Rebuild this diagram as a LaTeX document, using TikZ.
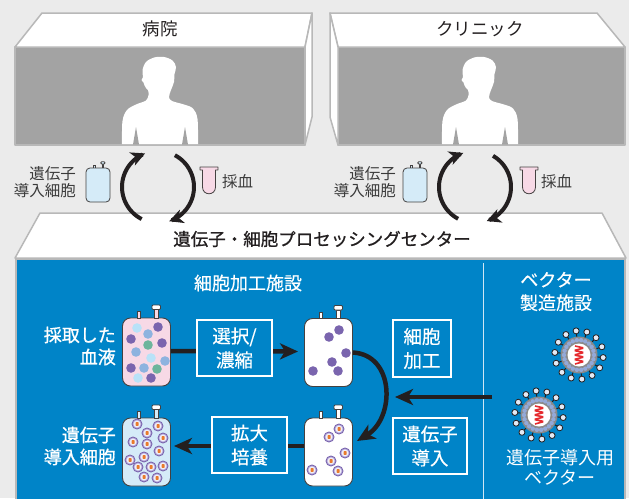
\documentclass[tikz,border=0pt]{standalone}
\usepackage{fontspec}
\setmainfont{Noto Sans CJK JP}
\newfontfamily\jpmedium{Noto Sans CJK JP}[FakeBold=0.9]
\newfontfamily\jpsemi{Noto Sans CJK JP}[FakeBold=0.45]
\usetikzlibrary{arrows.meta,calc}

\definecolor{bggray}{HTML}{EBEBEB}
\definecolor{roomgray}{HTML}{A3A3A3}
\definecolor{edgegray}{HTML}{B8B8B8}
\definecolor{procblue}{HTML}{0084C8}
\definecolor{ink}{HTML}{231F20}
\definecolor{labelgray}{HTML}{3A3A3A}
\definecolor{bagpink}{HTML}{F7D9E6}
\definecolor{bagblue}{HTML}{D5EBF8}
\definecolor{dotpurple}{HTML}{7A65AE}
\definecolor{dotlight}{HTML}{B8E2F8}
\definecolor{dotmid}{HTML}{8DB3DF}
\definecolor{dotgreen}{HTML}{6DB59C}
\definecolor{cellring}{HTML}{BBB0DD}
\definecolor{cellcore}{HTML}{E87B2C}
\definecolor{capsid}{HTML}{8A8A8A}
\definecolor{bead}{HTML}{93A9D8}
\definecolor{helix}{HTML}{E52A2E}
\definecolor{divider}{HTML}{CFE6F4}

\begin{document}
\begin{tikzpicture}[x=1pt,y=-1pt,
  roomedge/.style={draw=edgegray, line width=1.5pt, line join=round},
  roomlabel/.style={text=ink, font=\fontsize{17.5}{20}\selectfont, inner sep=0pt},
  titlelabel/.style={text=ink, font=\fontsize{17.5}{20}\selectfont\jpmedium, inner sep=0pt},
  graylabel/.style={text=labelgray, font=\fontsize{15.5}{17}\selectfont, inner sep=0pt},
  sidelabel/.style={text=white, font=\fontsize{18}{22}\selectfont\jpmedium, inner sep=0pt, align=right},
  sectionlabel/.style={text=white, font=\fontsize{18}{23}\selectfont\jpsemi, inner sep=0pt, align=center},
  procbox/.style={draw=white, line width=1.2pt, fill=procblue, inner sep=0pt,
    text=white, font=\fontsize{18.5}{24}\selectfont\jpsemi, align=center},
  bagbody/.style={draw=ink!85, line width=0.9pt, rounded corners=8pt,
    minimum width=48pt, minimum height=68pt, inner sep=0pt},
  fatarrow/.style={draw=ink, line width=4.5pt, -{Stealth[length=18pt,width=16pt,inset=5pt]}},
  cyclearrow/.style={draw=ink, line width=4pt, -{Stealth[length=14pt,width=14pt,inset=4pt]}},
  pics/spouts/.style={code={
    \draw[draw=ink!85, line width=0.8pt, fill=#1] (-9.5,0.5) rectangle (-6,-6);
    \draw[draw=ink!85, line width=0.8pt, fill=#1] (8,0.5) rectangle (11.5,-8);
    \draw[draw=ink!85, line width=0.8pt, fill=white, rounded corners=1pt] (5.5,-8) rectangle (14,-12.5);
  }},
  pics/bottle/.style={code={
    \draw[draw=ink!85, line width=0.8pt, fill=#1] (-9.5,0.5) rectangle (-6,-6);
    \draw[draw=ink!85, line width=0.8pt, fill=#1] (8,0.5) rectangle (11.5,-8);
    \draw[draw=ink!85, line width=0.8pt, fill=#1, rounded corners=1pt] (5.5,-8) rectangle (14,-12.5);
    \draw[draw=ink!85, line width=0.8pt, fill=#1, rounded corners=4pt] (-24,0) rectangle (24,68);
  }},
  pics/tube/.style={code={
    \draw[draw=ink!85, line width=0.8pt, fill=bagpink, line join=round]
      (-9,0) -- (9,0) -- (9,3) -- (6.5,3) -- (6.5,20)
      .. controls (6.5,29) and (-6.5,29) .. (-6.5,20) -- (-6.5,3) -- (-9,3) -- cycle;
  }},
  pics/person/.style={code={
    \fill[white] plot[smooth, tension=0.55] coordinates {(-38,87) (-37.5,64) (-33,53)
      (-24,47.5) (-14,43.5) (-11.5,38) (-12,33) (-14,31) (-15.5,28.5) (-16.5,25.5)
      (-18.5,23) (-17,20) (-17.5,13) (-14,5) (-6,0.5) (4,0) (12.5,3.5) (16,10)
      (14.5,17) (14,25) (11,33) (9,40) (12,44) (24,47.5) (33,51.5) (37.5,62) (38,87)} -- cycle;
    \fill[roomgray] (-24,70) -- (-27,87.5) -- (-21,87.5) -- cycle;
    \fill[roomgray] (25,70) -- (22,87.5) -- (28,87.5) -- cycle;
  }},
  pics/cell/.style={code={
    \draw[draw=dotpurple, line width=0.9pt, fill=cellring] (0,0) circle (5);
    \fill[white!80!cellring] (0,0) circle (3.4);
    \fill[cellcore, rounded corners=0.6pt] (-1.4,-1.9) rectangle (1.7,1.8);
  }},
  pics/virus/.style={code={
    \foreach \i in {0,...,13} {
      \draw[ink, line width=1pt] (\i*360/14+6:16) -- (\i*360/14+6:22);
      \draw[ink, line width=0.8pt, fill=white!75!bead] (\i*360/14+6:24.3) circle (3);
    }
    \fill[capsid] (0,0) circle (18.5);
    \foreach \i in {0,...,21} \fill[bead] (\i*360/22:15) circle (2.2);
    \fill[white] (0,0) circle (11.5);
    \draw[helix, line width=1.6pt, rounded corners=1.5pt]
      (-4,-9) -- (5,-7) -- (-5,-4.5) -- (5,-2.5) -- (-5,0) -- (5,2) -- (-5,4.5) -- (5,6.5) -- (-4,9);
  }}
]
\useasboundingbox (0,0) rectangle (629,498);
\fill[bggray] (0,0) rectangle (629,498);

% ---- hospital ----
\draw[roomedge, fill=roomgray] (15,47) rectangle (305,145);
\draw[roomedge, fill=white] (15,47) -- (42,13) -- (312,13) -- (305,47) -- cycle;
\draw[roomedge, fill=white] (305,47) -- (312,13) -- (312,117) -- (305,145) -- cycle;
\node[roomlabel] (hosp) at (160,29) {病院};
\pic at (160,57) {person};

% ---- clinic ----
\draw[roomedge, fill=roomgray] (338,47) rectangle (625,145);
\draw[roomedge, fill=white] (338,47) -- (330,13) -- (597,13) -- (625,47) -- cycle;
\draw[roomedge, fill=white] (338,47) -- (330,13) -- (330,117) -- (338,145) -- cycle;
\node[roomlabel] (clinic) at (480,29) {クリニック};
\pic at (480,57) {person};

% ---- processing center ----
\draw[roomedge, fill=white] (15,258) -- (40,213) -- (602,213) -- (626,258) -- cycle;
\node[titlelabel] (center) at (322,239) {遺伝子・細胞プロセッシングセンター};
\draw[roomedge, fill=procblue] (16,259) rectangle (625,505);
\draw[divider, line width=0.9pt] (483,263) -- (483,500);

% ---- exchange cycles ----
\draw[cyclearrow] plot[domain=243:111, samples=30] ({158+36*cos(\x)},{187-36*sin(\x)});
\draw[cyclearrow] plot[domain=62:-72, samples=30] ({158+36*cos(\x)},{187-36*sin(\x)});
\draw[cyclearrow] plot[domain=242:109, samples=30] ({475+36*cos(\x)},{187-36*sin(\x)});
\draw[cyclearrow] plot[domain=60:-71, samples=30] ({475+36*cos(\x)},{187-36*sin(\x)});

\node[graylabel, align=right, anchor=east] (cellsA) at (76,182) {遺伝子\\導入細胞};
\pic[scale=0.5] at (98,168) {bottle=bagblue};
\pic at (209,167) {tube};
\node[graylabel, anchor=west] (bloodA) at (222,182) {採血};

\node[graylabel, align=right, anchor=east] (cellsB) at (396,182) {遺伝子\\導入細胞};
\pic[scale=0.5] at (415,168) {bottle=bagblue};
\pic at (529,167) {tube};
\node[graylabel, anchor=west] (bloodB) at (541,182) {採血};

\node[sectionlabel] (cpf) at (248,283) {細胞加工施設};
\node[sectionlabel] (vmf) at (556,291.5) {ベクター\\製造施設};

% bags
\node[bagbody, fill=bagpink] (b1) at (146.5,352) {};
\pic at (b1.north) {spouts=bagpink};
\node[bagbody, fill=white] (b2) at (328.5,352.5) {};
\pic at (b2.north) {spouts=white};
\node[bagbody, fill=white] (b3) at (328.5,452) {};
\pic at (b3.north) {spouts=white};
\node[bagbody, fill=bagblue] (b4) at (146.5,452) {};
\pic at (b4.north) {spouts=bagblue};

% blood cells in the collected blood
\foreach \x/\y/\c in {137/328/dotlight, 158/327/dotpurple, 148/334/dotmid, 131/339/dotpurple,
  148/345/dotgreen, 162/343/dotpurple, 136/352/dotmid, 151/358/dotlight, 165/361/dotmid,
  131/368/dotpurple, 144/368/dotmid, 157/369/dotgreen, 138/378/dotlight, 151/378/dotpurple}
  \fill[\c] (\x,\y) circle (4.8);

% selected cells
\foreach \x/\y in {339/330, 329/337, 346/353, 332/362, 313/371, 338/371}
  \fill[dotpurple] (\x,\y) circle (4.8);

% transduced cells
\foreach \x/\y in {339/429, 329/437, 345/453, 331/461, 312/470, 338/471}
  \pic at (\x,\y) {cell};
\foreach \x/\y in {137/424, 158/426, 147/433, 163/438, 133/442, 147/444, 159/451,
  144/457, 130/460, 138/467, 151/467, 163/466, 144/477, 157/478}
  \pic at (\x,\y) {cell};

% flow arrows
\draw[fatarrow, shorten >=6pt] ([yshift=1pt]b1.east) -- ([yshift=1pt]b2.west);
\draw[fatarrow] (b2.east) .. controls (395,355) and (395,418) .. ($(b3.east)+(4,-11)$);
\coordinate (vecsrc) at (492,397);
\coordinate (vecdst) at (395,397);
\draw[fatarrow] (vecsrc) -- (vecdst);
\draw[fatarrow, shorten >=3pt] ([yshift=6pt]b3.west) -- ([yshift=6pt]b4.east);

% step boxes
\node[procbox, minimum width=75pt, minimum height=56pt] (sel) at (234.5,348) {選択/\\濃縮};
\node[procbox, minimum width=58pt, minimum height=57pt] (proc) at (422,348.5) {細胞\\加工};
\node[procbox, minimum width=74pt, minimum height=56pt] (trans) at (430,446) {遺伝子\\導入};
\node[procbox, minimum width=75pt, minimum height=56pt] (expand) at (249.5,445) {拡大\\培養};

\node[sidelabel, anchor=east] (blood) at (116,346) {採取した\\血液};
\node[sidelabel, anchor=east] (gmc) at (116,446) {遺伝子\\導入細胞};

% vectors
\pic at (579,355) {virus};
\pic at (539,415) {virus};
\node[sectionlabel, font=\fontsize{18}{20}\selectfont] (vec) at (560,467.5) {遺伝子導入用\\ベクター};
\end{tikzpicture}
\end{document}
